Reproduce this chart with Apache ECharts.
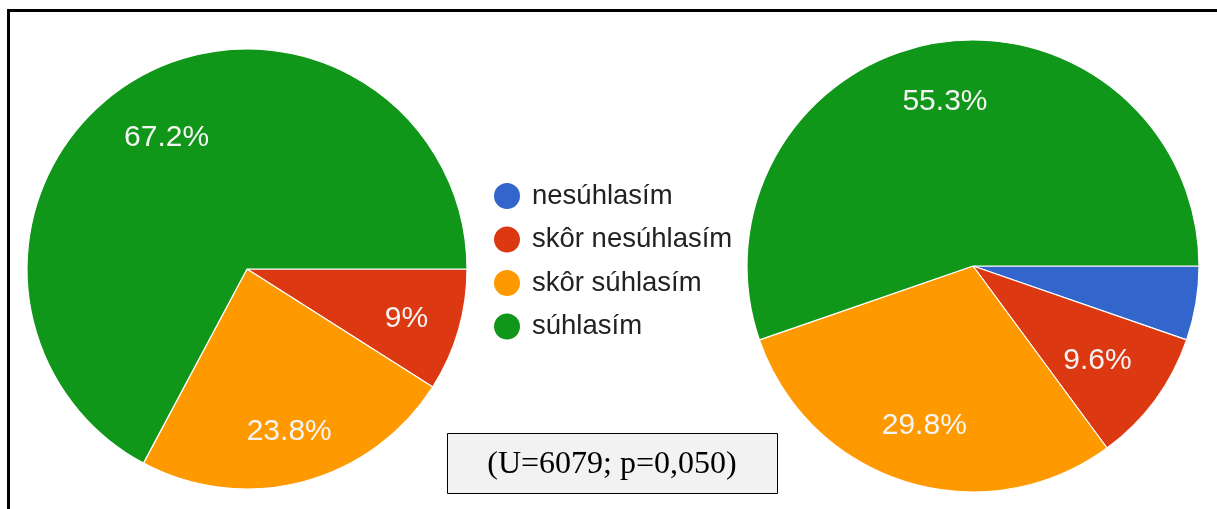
<!DOCTYPE html>
<html style="height: 100%">
<head>
<meta charset="utf-8">
<script src="https://cdn.jsdelivr.net/npm/echarts@6/dist/echarts.min.js"></script>
<title>Pie comparison</title>
</head>
<body style="height: 100%; margin: 0; background: #fff">
<div id="container" style="width: 1217px; height: 509px"></div>
<script type="text/javascript">

const categories = ['nesúhlasím', 'skôr nesúhlasím', 'skôr súhlasím', 'súhlasím'];
const leftValues = [0, 9, 23.8, 67.2];
const rightValues = [5.3, 9.6, 29.8, 55.3];
const hiddenLabels = ['nesúhlasím'];   // google hides the tiny slice label
const colors = ['#3366cc', '#dc3912', '#ff9900', '#109618'];
const statText = '(U=6079; p=0,050)';

const pieCenters = [[247, 269], [973, 266]];
const pieRadius = [220, 226];
const pieValues = [leftValues, rightValues];
const labelReach = 191;   // outer edge of a label box, px from the centre

function toData(values) {
    return categories.map((c, i) => ({ name: c, value: values[i] }));
}

function labelText(p) {
    if (p.value === 0 || hiddenLabels.indexOf(p.name) >= 0) return '';
    return p.value + '%';
}

// google style: push each label out along its slice's mid angle until
// the far side of the text box touches labelReach
function placeLabel(params) {
    let vals = pieValues[params.seriesIndex];
    let total = vals.reduce((a, b) => a + b, 0);
    let before = 0;
    for (let i = 0; i < params.dataIndex; i++) before += vals[i];
    let mid = (before + vals[params.dataIndex] / 2) / total * Math.PI * 2;
    let c = pieCenters[params.seriesIndex];
    let hw = params.labelRect.width / 2, hh = params.labelRect.height / 2;
    let cos = Math.cos(mid), sin = Math.sin(mid);
    let d = labelReach - (hw * Math.abs(cos) + hh * Math.abs(sin));
    return {
        x: c[0] + d * cos,
        y: c[1] + d * sin + 3,   // digits have no descenders, nudge down
        align: 'center',
        verticalAlign: 'middle'
    };
}

function pie(k) {
    return {
        type: 'pie',
        center: pieCenters[k],
        radius: [0, pieRadius[k]],
        startAngle: 0,
        clockwise: true,
        silent: true,
        itemStyle: { borderColor: '#fff', borderWidth: 1.2 },
        label: {
            show: true,
            position: 'inside',
            formatter: labelText,
            color: '#f4f4f4',
            fontSize: 30,
            fontFamily: 'Liberation Sans'
        },
        labelLine: { show: false },
        labelLayout: placeLabel,
        data: toData(pieValues[k])
    };
}

let chart = echarts.init(document.getElementById('container'));
chart.setOption({
    animation: false,
    color: colors,
    legend: {
        orient: 'vertical',
        left: 487,
        top: 176,
        itemWidth: 28,
        itemHeight: 28,
        itemGap: 13.5,
        icon: 'circle',
        selectedMode: false,
        data: categories,
        textStyle: {
            fontSize: 27.5,
            lineHeight: 28,
            fontFamily: 'Liberation Sans',
            color: '#222',
            padding: [0, 0, 0, 6]
        }
    },
    series: [pie(0), pie(1)],
    graphic: [
        {
            type: 'rect',
            shape: { x: 8.5, y: 10.5, width: 1240, height: 540 },
            style: { fill: 'none', stroke: '#000', lineWidth: 3 },
            silent: true
        },
        {
            type: 'rect',
            shape: { x: 447.5, y: 433.5, width: 330, height: 60 },
            style: { fill: '#f2f2f2', stroke: '#000', lineWidth: 1 },
            z: 10
        },
        {
            type: 'text',
            x: 612,
            y: 465,
            z: 11,
            style: {
                text: statText,
                font: '32px "Liberation Serif"',
                fill: '#000',
                align: 'center',
                verticalAlign: 'middle'
            }
        }
    ]
});

</script>
</body>
</html>
